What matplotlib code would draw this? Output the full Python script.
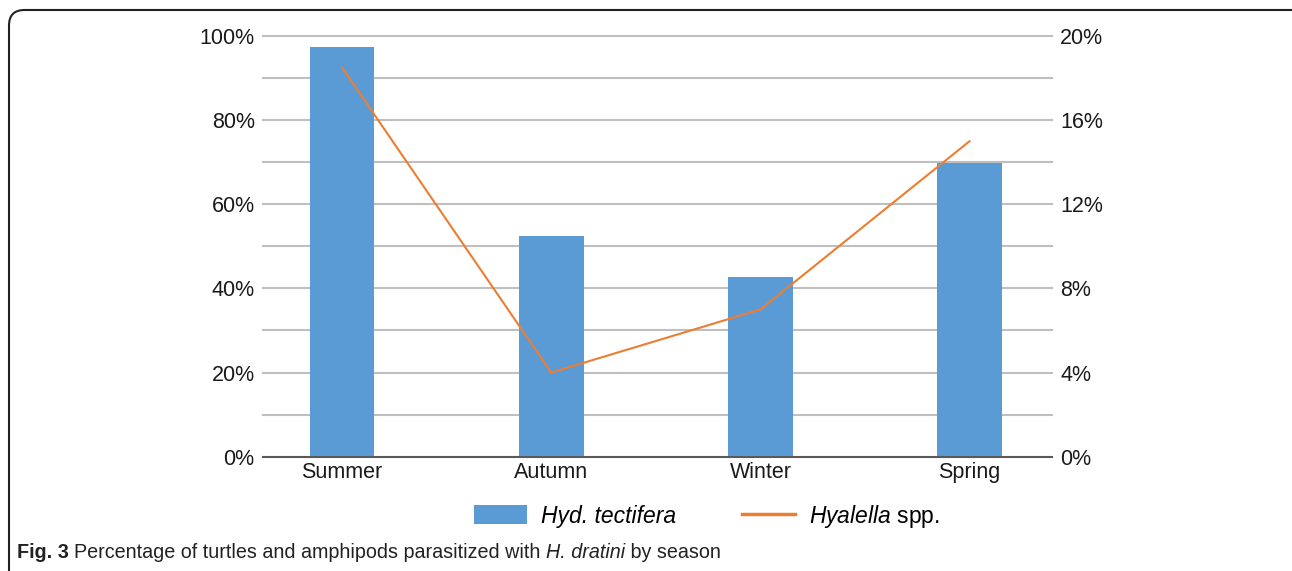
import matplotlib
matplotlib.use('Agg')
import matplotlib.pyplot as plt
import numpy as np
from matplotlib.patches import FancyBboxPatch, Patch
from matplotlib.lines import Line2D

plt.rcParams['font.family'] = ['Liberation Sans', 'DejaVu Sans']
plt.rcParams['mathtext.fontset'] = 'custom'
plt.rcParams['mathtext.it'] = 'Liberation Sans:italic'
plt.rcParams['mathtext.rm'] = 'Liberation Sans'

# data
seasons = ['Summer', 'Autumn', 'Winter', 'Spring']
turtles = [97.5, 52.4, 42.7, 69.7]      # Hyd. tectifera, left axis (%)
amphipods = [18.5, 4.0, 7.0, 15.0]      # Hyalella spp., right axis (%)

bar_color = '#5B9BD5'
line_color = '#ED7D31'
grid_color = '#BFBFBF'

fig = plt.figure(figsize=(12.92, 5.71), dpi=100)
ax = fig.add_axes([263/1292, 1-456.7/571, (1052-263)/1292, (456.7-36)/571])
ax2 = ax.twinx()

x = np.arange(len(seasons))
ax.bar(x, turtles, width=0.31, color=bar_color, zorder=3)
ax2.plot(x, amphipods, color=line_color, lw=1.5, zorder=4)

ax.set_xlim(-0.378, 3.394)
ax.set_ylim(0, 100)
ax2.set_ylim(0, 20)

# gridlines every 10%
for g in np.arange(10, 101, 10):
    ax.axhline(g, color=grid_color, lw=1.5, zorder=1, clip_on=False)
ax.axhline(0, color='#595959', lw=1.5, zorder=4, clip_on=False)

ax.set_yticks(np.arange(0, 101, 20))
ax.set_yticklabels([f'{v}%' for v in range(0, 101, 20)])
ax2.set_yticks(np.arange(0, 21, 4))
ax2.set_yticklabels([f'{v}%' for v in range(0, 21, 4)])
ax.set_xticks(x)
ax.set_xticklabels(seasons)

for a in (ax, ax2):
    for s in a.spines.values():
        s.set_visible(False)
    a.tick_params(length=0, labelsize=15.5, colors='#1a1a1a')
ax.tick_params(axis='y', pad=6)
ax2.tick_params(axis='y', pad=6)
ax.tick_params(axis='x', pad=4)

# legend
handles = [Patch(facecolor=bar_color, edgecolor='none'),
           Line2D([0], [0], color=line_color, lw=2.5)]
labels = ['Hyd. tectifera', r'$\it{Hyalella}$ spp.']
leg = fig.legend(handles, labels, loc='center', bbox_to_anchor=(0.547, 1-516/571),
                 ncol=2, frameon=False, fontsize=16.5, handlelength=2.3, handleheight=0.85,
                 columnspacing=2.9, handletextpad=0.6)
leg.get_texts()[0].set_style('italic')

# rounded frame
fig.patches.append(FancyBboxPatch((9/1292, -0.05), 1.1, 1-10/571+0.05,
                                  boxstyle='round,pad=0,rounding_size=0.012',
                                  transform=fig.transFigure, fill=False,
                                  edgecolor='#222222', lw=1.5, mutation_aspect=1292/571))

# caption
cap_font = ['Liberation Sans', 'DejaVu Sans']
cy = 1 - 553/571
renderer = fig.canvas.get_renderer()
xpos = 17/1292
for txt, kw in [('Fig. 3 ', dict(weight='bold')),
                ('Percentage of turtles and amphipods parasitized with ', {}),
                ('H. dratini', dict(style='italic')),
                (' by season', {})]:
    t = fig.text(xpos, cy, txt, fontsize=14.2, family=cap_font, va='center', ha='left',
                 color='#222222', **kw)
    bb = t.get_window_extent(renderer=renderer)
    xpos += bb.width / 1292

fig.savefig('out.png', dpi=100)
